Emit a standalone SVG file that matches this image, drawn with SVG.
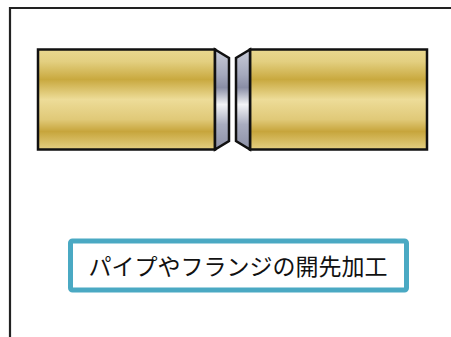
<svg xmlns="http://www.w3.org/2000/svg" width="451" height="337" viewBox="0 0 451 337">
  <defs>
    <linearGradient id="gold" x1="0" y1="0" x2="0" y2="1">
      <stop offset="0" stop-color="#e9d88f"/>
      <stop offset="0.12" stop-color="#e3cf80"/>
      <stop offset="0.3" stop-color="#c9a93f"/>
      <stop offset="0.5" stop-color="#eddc98"/>
      <stop offset="0.7" stop-color="#e0c978"/>
      <stop offset="0.82" stop-color="#c7a53c"/>
      <stop offset="1" stop-color="#e4d082"/>
    </linearGradient>
    <linearGradient id="steel" x1="0" y1="0" x2="0" y2="1">
      <stop offset="0" stop-color="#c9ccd8"/>
      <stop offset="0.25" stop-color="#a5a9bd"/>
      <stop offset="0.38" stop-color="#8a8ea6"/>
      <stop offset="0.55" stop-color="#f2f3f6"/>
      <stop offset="0.75" stop-color="#a9adc0"/>
      <stop offset="1" stop-color="#8c90a6"/>
    </linearGradient>
    <style>
      .body { fill: url(#gold); stroke: #111; stroke-width: 2.5; }
      .bevel { fill: url(#steel); stroke: #111; stroke-width: 2.5; stroke-linejoin: miter; }
      .frame { fill: none; stroke: #222; stroke-width: 2.2; }
      .label-box { fill: #fff; stroke: #4aa9c3; stroke-width: 5; }
      .label { font-family: "Noto Sans CJK JP", "Noto Sans", sans-serif; font-size: 23px; fill: #111; }
    </style>
  </defs>

  <rect width="451" height="337" fill="#fff"/>

  <!-- outer frame (open to the right and bottom) -->
  <path class="frame" d="M10,337 V8 H451"/>

  <!-- left pipe with bevelled end -->
  <g id="pipe-left">
    <rect class="body" x="38" y="49.5" width="177" height="100"/>
    <polygon class="bevel" points="215,49.5 229,58 229,141 215,149.5"/>
  </g>

  <!-- right pipe with bevelled end -->
  <g id="pipe-right">
    <rect class="body" x="250" y="49.5" width="177" height="100"/>
    <polygon class="bevel" points="250,49.5 236,58 236,141 250,149.5"/>
  </g>

  <!-- caption -->
  <g id="caption">
    <rect class="label-box" x="70.5" y="241" width="336" height="49" rx="2"/>
    <text class="label" x="238" y="275" text-anchor="middle">パイプやフランジの開先加工</text>
  </g>
</svg>
